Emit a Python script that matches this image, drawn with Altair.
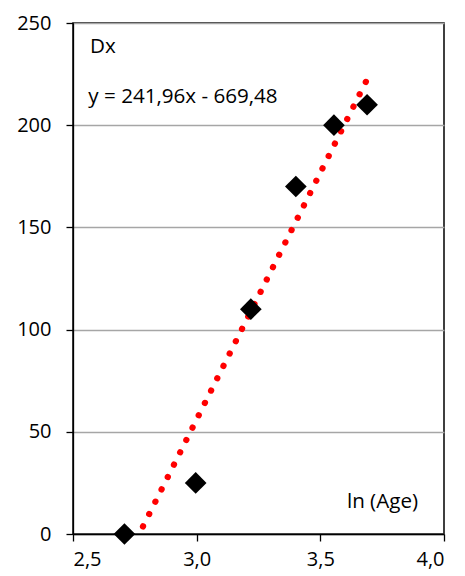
import altair as alt
import pandas as pd

# data
ln_age = [2.708, 2.996, 3.219, 3.401, 3.555, 3.689]
dx = [0, 25, 110, 170, 200, 210]
x_ticks = [2.5, 3.0, 3.5, 4.0]
y_ticks = [0, 50, 100, 150, 200, 250]
left_text = ["Dx", "y = 241,96x - 669,48"]
left_x = [2.569, 2.562]
left_y = [235.5, 211]
right_text = ["ln (Age)"]
right_x = [3.895]
right_y = [12.5]

df = pd.DataFrame({"x": ln_age, "y": dx})
lab_l = pd.DataFrame({"t": left_text, "x": left_x, "y": left_y})
lab_r = pd.DataFrame({"t": right_text, "x": right_x, "y": right_y})

FONT = "Open Sans"
FS = 20
FS_T = 20.6

xs = alt.Scale(domain=[2.5, 4.0], nice=False, zero=False)
ys = alt.Scale(domain=[0, 250], nice=False)

x_axis = alt.Axis(values=x_ticks, labelExpr="replace(format(datum.value, '.1f'), '.', ',')",
                  grid=False, title=None, domainColor="black", domainWidth=1.3,
                  tickColor="black", tickWidth=1.3, tickSize=7, labelPadding=8,
                  labelFont=FONT, labelFontSize=FS, labelColor="black")
y_axis = alt.Axis(values=y_ticks, grid=True, gridColor="#a6a6a6", gridWidth=1.5,
                  title=None, domainColor="black", domainWidth=1.3,
                  tickColor="black", tickWidth=1.3, tickSize=7, labelPadding=15,
                  labelFont=FONT, labelFontSize=FS, labelColor="black")

base = alt.Chart(df)

points = base.mark_point(shape="diamond", filled=True, color="black", size=470, opacity=1).encode(
    x=alt.X("x:Q", scale=xs, axis=x_axis),
    y=alt.Y("y:Q", scale=ys, axis=y_axis),
)

trend = base.transform_regression("x", "y", method="linear").mark_line(
    color="#ff0000", strokeWidth=6.3, strokeCap="round", strokeDash=[0.01, 13.8], clip=True
).encode(
    x=alt.X("x:Q", scale=xs),
    y=alt.Y("y:Q", scale=ys),
)

texts_left = alt.Chart(lab_l).mark_text(font=FONT, fontSize=FS_T, color="black",
                                        baseline="alphabetic", align="left").encode(
    x=alt.X("x:Q", scale=xs), y=alt.Y("y:Q", scale=ys), text="t:N")
texts_right = alt.Chart(lab_r).mark_text(font=FONT, fontSize=FS_T, color="black",
                                         baseline="alphabetic", align="right").encode(
    x=alt.X("x:Q", scale=xs), y=alt.Y("y:Q", scale=ys), text="t:N")

chart = alt.layer(trend, points, texts_left, texts_right).properties(
    width=371, height=511,
    autosize=alt.AutoSizeParams(type="none"),
    padding={"left": 73, "top": 23, "right": 21, "bottom": 42},
    background="white",
).configure_view(stroke="black", strokeWidth=1.5)

chart.save("out.html", embed_options={"renderer": "svg", "actions": False})
